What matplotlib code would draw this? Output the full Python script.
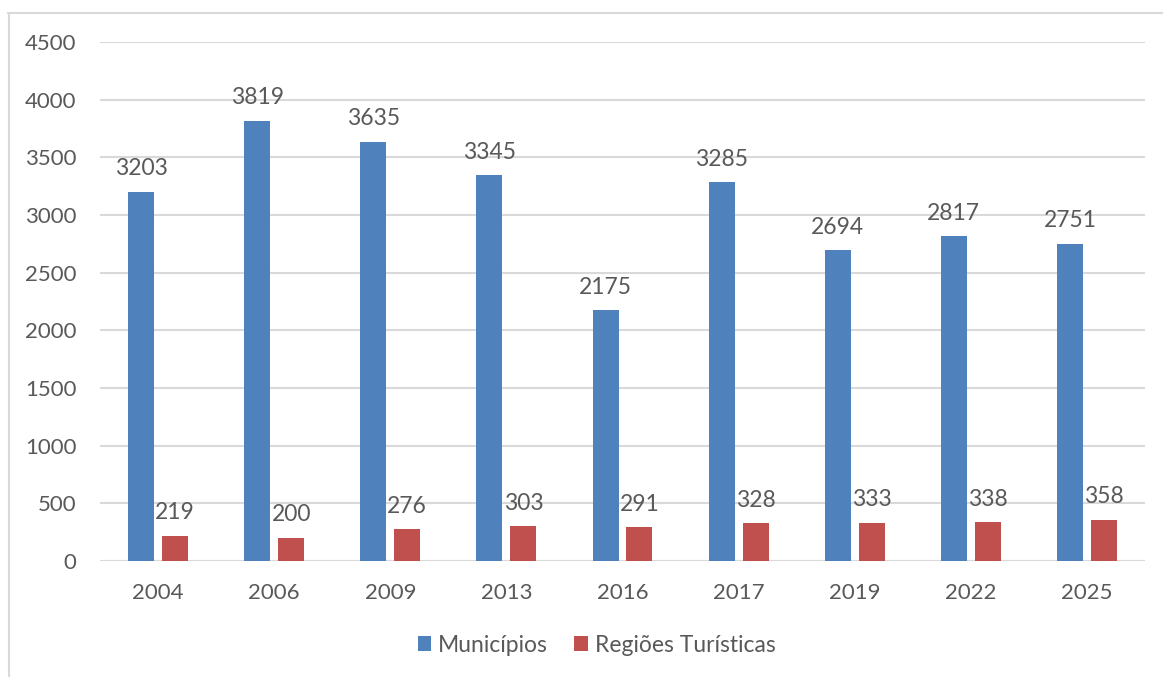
import matplotlib.pyplot as plt
from matplotlib.lines import Line2D
import numpy as np

years = ['2004', '2006', '2009', '2013', '2016', '2017', '2019', '2022', '2025']
municipios = [3203, 3819, 3635, 3345, 2175, 3285, 2694, 2817, 2751]
regioes = [219, 200, 276, 303, 291, 328, 333, 338, 358]

blue = '#4F81BD'
red = '#C0504D'
text_color = '#595959'
grid_color = '#D9D9D9'

plt.rcParams['font.family'] = ['Lato', 'DejaVu Sans']

fig = plt.figure(figsize=(11.63, 6.77), dpi=100)
ax = fig.add_axes([0.086, 0.1713, 0.8985, 0.7667])

x = np.arange(len(years))
w = 0.224
off = 0.146
b1 = ax.bar(x - off, municipios, w, color=blue, label='Municípios', zorder=3)
b2 = ax.bar(x + off, regioes, w, color=red, label='Regiões Turísticas', zorder=3)

for bars, vals in ((b1, municipios), (b2, regioes)):
    for rect, v in zip(bars, vals):
        ax.annotate(str(v), (rect.get_x() + rect.get_width() / 2, v), xytext=(0, 9),
                    textcoords='offset points', ha='center', va='bottom',
                    fontsize=16.5, color=text_color)

ax.set_xlim(-0.5, len(years) - 0.5)
ax.set_ylim(0, 4500)
ax.set_yticks(np.arange(0, 4501, 500))
ax.set_xticks(x)
ax.set_xticklabels(years)
ax.tick_params(axis='both', length=0, labelsize=16, colors=text_color)
ax.tick_params(axis='y', pad=17)
ax.tick_params(axis='x', pad=16)
ax.yaxis.grid(True, color=grid_color, linewidth=1.5, zorder=0)
for s in ax.spines.values():
    s.set_visible(False)
ax.axhline(0, color=grid_color, linewidth=1.5, zorder=2)

leg = fig.legend(handles=[b1, b2], loc='center', bbox_to_anchor=(0.513, 0.047), ncol=2,
                 frameon=False, fontsize=16.5, handlelength=0.6, handleheight=0.6,
                 handletextpad=0.3, columnspacing=1.15)
for t in leg.get_texts():
    t.set_color(text_color)

# chart border (top and left edges)
fig.add_artist(Line2D([0.007, 1.0], [0.981, 0.981], color=grid_color, linewidth=1.5))
fig.add_artist(Line2D([0.0077, 0.0077], [0.0, 0.981], color=grid_color, linewidth=1.5))

fig.savefig('out.png', dpi=100)
